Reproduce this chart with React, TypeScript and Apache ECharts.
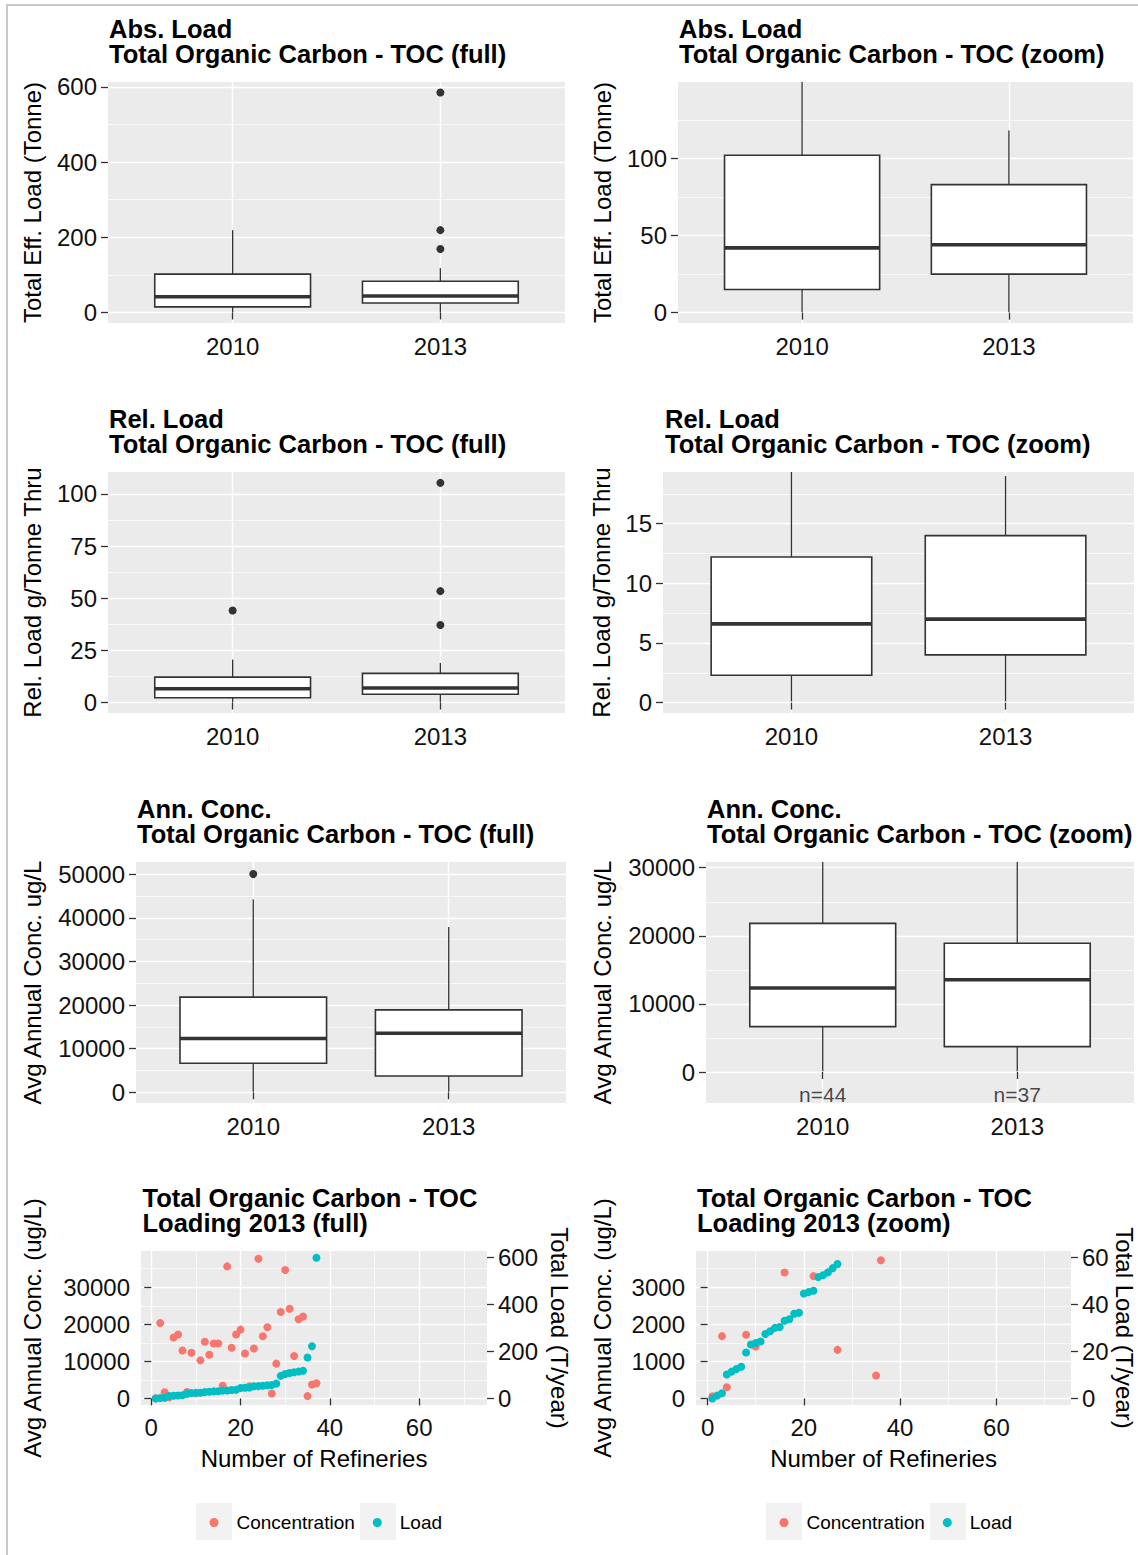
import React, { useEffect, useRef } from 'react';
import * as echarts from 'echarts';

const FONT = '"Liberation Sans", Arial, Helvetica, sans-serif';

// ---------- data ----------
const years = ['2010', '2013'];
const yearPos = [1, 2];

// box statistics: [lower whisker, Q1, median, Q3, upper whisker]
const absLoad2010 = [0.3, 15, 42, 102, 219];
const absLoad2013 = [0.3, 25, 44, 83, 118];
const absLoadOutliers2010: number[] = [];
const absLoadOutliers2013 = [585, 219, 169];

const relLoad2010 = [0.1, 2.3, 6.6, 12.2, 20.6];
const relLoad2013 = [0.1, 4.0, 7.0, 14.0, 19.0];
const relLoadOutliers2010 = [44.1];
const relLoadOutliers2013 = [105.3, 53.4, 37.2];

const annConc2010 = [100, 6670, 12340, 21830, 44200];
const annConc2013 = [100, 3730, 13550, 18900, 37900];
const annConcOutliers2010 = [50070];
const annConcOutliers2013: number[] = [];
const sampleCounts = [44, 37];

// 2013 loading scatter
const refinery = [1, 2, 3, 4, 5, 6, 7, 8, 9, 10, 11, 12, 13, 14, 15, 16, 17, 18, 19, 20, 21, 22, 23, 24, 25, 26, 27, 28, 29, 30, 31, 32, 33, 34, 35, 36, 37];
const conc2013 = [60, 20360, 1680, 300, 16430, 17230, 12950, 1720, 12320, 1400, 10270, 15270, 11790, 14820, 14820, 3400, 35630, 13660, 17230, 18570, 12140, 3300, 13480, 37680, 16790, 19200, 1310, 9380, 23300, 34660, 24200, 11430, 21340, 22100, 620, 3730, 4110];
const load2013 = [0.0, 1.2, 2.2, 10.2, 11.4, 12.5, 13.5, 19.5, 22.9, 23.6, 24.2, 27.4, 28.6, 30.0, 30.4, 33.0, 33.7, 36.0, 36.4, 44.6, 45.2, 45.8, 51.6, 52.4, 53.6, 55.4, 57.2, 63.0, 96, 104, 108, 111, 114, 118, 174, 222, 598];

// tick labels
const absLoadTicks = [0, 200, 400, 600];
const absLoadZoomTicks = [0, 50, 100];
const relLoadTicks = [0, 25, 50, 75, 100];
const relLoadZoomTicks = [0, 5, 10, 15];
const annConcTicks = [0, 10000, 20000, 30000, 40000, 50000];
const annConcZoomTicks = [0, 10000, 20000, 30000];
const refineryTicks = [0, 20, 40, 60];
const concTicks = [0, 10000, 20000, 30000];
const concZoomTicks = [0, 1000, 2000, 3000];
const loadTicks = [0, 200, 400, 600];
const loadZoomTicks = [0, 20, 40, 60];

// ---------- styling helpers ----------
const INK = '#333333';
const PANEL_BG = '#EBEBEB';
const RED = '#F8766D';
const TEAL = '#00BFC4';

const plainNumber = (v: number) => String(Math.round(v * 1000) / 1000);

const renderBox = (_params: any, api: any) => {
  const x = api.value(0);
  const lo = api.coord([x, api.value(1)]);
  const q1 = api.coord([x, api.value(2)]);
  const md = api.coord([x, api.value(3)]);
  const q3 = api.coord([x, api.value(4)]);
  const hi = api.coord([x, api.value(5)]);
  const w = api.size([0.75, 0])[0];
  const cx = q1[0];
  return {
    type: 'group',
    children: [
      { type: 'line', shape: { x1: cx, y1: lo[1], x2: cx, y2: q1[1] }, style: { stroke: INK, lineWidth: 1.3 } },
      { type: 'line', shape: { x1: cx, y1: q3[1], x2: cx, y2: hi[1] }, style: { stroke: INK, lineWidth: 1.3 } },
      { type: 'rect', shape: { x: cx - w / 2, y: q3[1], width: w, height: q1[1] - q3[1] }, style: { fill: '#FFFFFF', stroke: INK, lineWidth: 1.6 } },
      { type: 'line', shape: { x1: cx - w / 2, y1: md[1], x2: cx + w / 2, y2: md[1] }, style: { stroke: INK, lineWidth: 3.6 } },
    ],
  };
};

const tickLabel = { fontSize: 24, color: '#111111', fontFamily: FONT };
const nameStyle = { fontSize: 24, color: '#000000', fontFamily: FONT };
const titleStyle = { fontSize: 25.5, fontWeight: 'bold' as const, color: '#000000', lineHeight: 25, fontFamily: FONT };

function valueYAxis(gridIndex: number, min: number, max: number, step: number, ticks: number[], name: string, nameGap: number, extra: any = {}) {
  return {
    type: 'value',
    gridIndex,
    min,
    max,
    minInterval: step,
    maxInterval: step,
    name,
    nameLocation: 'middle',
    nameGap,
    nameTextStyle: nameStyle,
    axisLine: { show: false },
    axisTick: { show: true, length: 7, lineStyle: { color: INK, width: 1.3 }, customValues: ticks },
    axisLabel: { ...tickLabel, margin: 11, customValues: ticks, formatter: plainNumber },
    splitLine: { show: true, lineStyle: { color: '#FFFFFF', width: 1.4 } },
    minorTick: { show: false, splitNumber: 2 },
    minorSplitLine: { show: true, lineStyle: { color: '#FFFFFF', width: 0.7 } },
    ...extra,
  };
}

function buildOption() {
  const grids: any[] = [];
  const xAxes: any[] = [];
  const yAxes: any[] = [];
  const series: any[] = [];
  const titles: any[] = [];

  const boxPanels = [
    { title: 'Abs. Load\nTotal Organic Carbon - TOC (full)', tx: 109, ty: 16, g: [108, 82, 457, 241], yName: 'Total Eff. Load (Tonne)', gap: 64, min: -28, max: 613, step: 200, ticks: absLoadTicks, stats: [absLoad2010, absLoad2013], out: [absLoadOutliers2010, absLoadOutliers2013] },
    { title: 'Abs. Load\nTotal Organic Carbon - TOC (zoom)', tx: 679, ty: 16, g: [678, 82, 455, 241], yName: 'Total Eff. Load (Tonne)', gap: 64, min: -6.7, max: 149.5, step: 50, ticks: absLoadZoomTicks, stats: [absLoad2010, absLoad2013], out: [absLoadOutliers2010, absLoadOutliers2013] },
    { title: 'Rel. Load\nTotal Organic Carbon - TOC (full)', tx: 109, ty: 406, g: [108, 472, 457, 241], yName: 'Rel. Load g/Tonne Thru', gap: 64, min: -5.0, max: 110.5, step: 25, ticks: relLoadTicks, stats: [relLoad2010, relLoad2013], out: [relLoadOutliers2010, relLoadOutliers2013] },
    { title: 'Rel. Load\nTotal Organic Carbon - TOC (zoom)', tx: 665, ty: 406, g: [663, 472, 471, 241], yName: 'Rel. Load g/Tonne Thru', gap: 50, min: -0.87, max: 19.33, step: 5, ticks: relLoadZoomTicks, stats: [relLoad2010, relLoad2013], out: [relLoadOutliers2010, relLoadOutliers2013] },
    { title: 'Ann. Conc.\nTotal Organic Carbon - TOC (full)', tx: 137, ty: 796, g: [136, 862, 430, 241], yName: 'Avg Annual Conc. ug/L', gap: 92, min: -2454, max: 52820, step: 10000, ticks: annConcTicks, stats: [annConc2010, annConc2013], out: [annConcOutliers2010, annConcOutliers2013] },
    { title: 'Ann. Conc.\nTotal Organic Carbon - TOC (zoom)', tx: 707, ty: 796, g: [706, 862, 428, 241], yName: 'Avg Annual Conc. ug/L', gap: 92, min: -4552, max: 30837, step: 10000, ticks: annConcZoomTicks, stats: [annConc2010, annConc2013], out: [annConcOutliers2010, annConcOutliers2013], nLabels: true },
  ];

  boxPanels.forEach((p, i) => {
    grids.push({ left: p.g[0], top: p.g[1], width: p.g[2], height: p.g[3], show: true, backgroundColor: PANEL_BG, borderWidth: 0, containLabel: false, outerBoundsMode: 'none' });
    titles.push({ text: p.title, left: p.tx, top: p.ty, padding: 0, itemGap: 0, textStyle: titleStyle });
    xAxes.push({
      type: 'value', gridIndex: i, min: 0.4, max: 2.6, minInterval: 1, maxInterval: 1,
      axisLine: { show: false },
      axisTick: { show: true, length: 7, lineStyle: { color: INK, width: 1.3 }, customValues: yearPos },
      axisLabel: { ...tickLabel, margin: 11, customValues: yearPos, formatter: (v: number) => years[Math.round(v) - 1] ?? '' },
      splitLine: { show: true, lineStyle: { color: '#FFFFFF', width: 1.4 } },
    });
    yAxes.push(valueYAxis(i, p.min, p.max, p.step, p.ticks, p.yName, p.gap));
    series.push({
      type: 'custom', xAxisIndex: i, yAxisIndex: i, clip: true, silent: true,
      renderItem: renderBox,
      encode: { x: 0, y: [1, 2, 3, 4, 5] },
      data: p.stats.map((s, k) => [yearPos[k], ...s]),
      z: 2,
    });
    const outData: number[][] = [];
    p.out.forEach((arr, k) => arr.forEach((v) => outData.push([yearPos[k], v])));
    if (outData.length) {
      series.push({
        type: 'scatter', xAxisIndex: i, yAxisIndex: i, clip: true, silent: true,
        symbol: 'circle', symbolSize: 8, itemStyle: { color: INK, opacity: 1 },
        data: outData, z: 3,
      });
    }
    if ((p as any).nLabels) {
      series.push({
        type: 'scatter', xAxisIndex: i, yAxisIndex: i, clip: false, silent: true,
        symbol: 'circle', symbolSize: 1, itemStyle: { color: 'rgba(0,0,0,0)' },
        label: { show: true, position: 'inside', formatter: (prm: any) => 'n=' + sampleCounts[prm.dataIndex], fontSize: 21, color: '#1A1A1A', fontFamily: FONT },
        data: yearPos.map((x) => [x, -3300]), z: 4,
      });
    }
  });

  const scatterPanels = [
    { title: 'Total Organic Carbon - TOC\nLoading 2013 (full)', tx: 142.5, ty: 1185, g: [141, 1251, 346, 154], xmin: -2.3, xmax: 75.2, ymin: -1778, ymax: 39780, ystep: 10000, yticks: concTicks, rmin: -28, rmax: 627, rstep: 200, rticks: loadTicks, lgap: 97, rgap: 60 },
    { title: 'Total Organic Carbon - TOC\nLoading 2013 (zoom)', tx: 697, ty: 1185, g: [696, 1251, 375, 154], xmin: -2.4, xmax: 75.5, ymin: -178, ymax: 3978, ystep: 1000, yticks: concZoomTicks, rmin: -2.8, rmax: 62.7, rstep: 20, rticks: loadZoomTicks, lgap: 82, rgap: 40 },
  ];

  const rightAxisStart = 8;
  scatterPanels.forEach((p, j) => {
    const gi = 6 + j;
    grids.push({ left: p.g[0], top: p.g[1], width: p.g[2], height: p.g[3], show: true, backgroundColor: PANEL_BG, borderWidth: 0, containLabel: false, outerBoundsMode: 'none' });
    titles.push({ text: p.title, left: p.tx, top: p.ty, padding: 0, itemGap: 0, textStyle: titleStyle });
    xAxes.push({
      type: 'value', gridIndex: gi, min: p.xmin, max: p.xmax, minInterval: 20, maxInterval: 20,
      name: 'Number of Refineries', nameLocation: 'middle', nameGap: 41, nameTextStyle: nameStyle,
      axisLine: { show: false },
      axisTick: { show: true, length: 7, lineStyle: { color: INK, width: 1.3 }, customValues: refineryTicks },
      axisLabel: { ...tickLabel, margin: 10, customValues: refineryTicks, formatter: plainNumber },
      splitLine: { show: true, lineStyle: { color: '#FFFFFF', width: 1.4 } },
      minorTick: { show: false, splitNumber: 2 },
      minorSplitLine: { show: true, lineStyle: { color: '#FFFFFF', width: 0.7 } },
    });
    yAxes[gi] = valueYAxis(gi, p.ymin, p.ymax, p.ystep, p.yticks, 'Avg Annual Conc. (ug/L)', p.lgap);
    yAxes[rightAxisStart + j] = valueYAxis(gi, p.rmin, p.rmax, p.rstep, p.rticks, 'Total Load (T/year)', p.rgap, {
      position: 'right', nameRotate: -90,
      splitLine: { show: false }, minorSplitLine: { show: false },
    });
    series.push({
      name: 'Concentration', type: 'scatter', xAxisIndex: gi, yAxisIndex: gi, clip: true, silent: true,
      symbol: 'circle', symbolSize: 8, itemStyle: { color: RED, opacity: 1 },
      data: refinery.map((r, k) => [r, conc2013[k]]), z: 3,
    });
    series.push({
      name: 'Load', type: 'scatter', xAxisIndex: gi, yAxisIndex: rightAxisStart + j, clip: true, silent: true,
      symbol: 'circle', symbolSize: 8, itemStyle: { color: TEAL, opacity: 1 },
      data: refinery.map((r, k) => [r, load2013[k]]), z: 4,
    });
  });

  const legendBase = {
    data: ['Concentration', 'Load'], top: 1512, icon: 'circle', itemWidth: 9, itemHeight: 9, itemGap: 18,
    padding: 0, selectedMode: false, orient: 'horizontal',
    textStyle: { fontSize: 19, color: '#000000', fontFamily: FONT, padding: [0, 0, 0, 13], lineHeight: 21 },
  };

  const keyBg = (x: number, w: number) => ({ type: 'rect', shape: { x, y: 1503, width: w, height: 37 }, style: { fill: '#F2F2F2' }, z: -1, silent: true });

  return {
    animation: false,
    backgroundColor: '#FFFFFF',
    textStyle: { fontFamily: FONT },
    title: titles,
    grid: grids,
    xAxis: xAxes,
    yAxis: yAxes,
    legend: [
      { ...legendBase, left: 209.5 },
      { ...legendBase, left: 779.5 },
    ],
    graphic: [
      keyBg(196, 36), keyBg(360, 36), keyBg(766, 36), keyBg(930, 36),
      { type: 'line', shape: { x1: 7, y1: 5, x2: 7, y2: 1555 }, style: { stroke: '#C8C8C8', lineWidth: 2 }, silent: true },
      { type: 'line', shape: { x1: 6, y1: 5, x2: 1138, y2: 5 }, style: { stroke: '#C8C8C8', lineWidth: 2 }, silent: true },
    ],
    series,
  };
}

export default function App() {
  const ref = useRef<HTMLDivElement>(null);
  useEffect(() => {
    if (!ref.current) return;
    const chart = echarts.init(ref.current, undefined, { renderer: 'svg' });
    chart.setOption(buildOption() as any);
    return () => chart.dispose();
  }, []);
  return (
    <div
      ref={ref}
      style={{ position: 'absolute', left: 0, top: 0, width: 1138, height: 1555, background: '#FFFFFF' }}
    />
  );
}
